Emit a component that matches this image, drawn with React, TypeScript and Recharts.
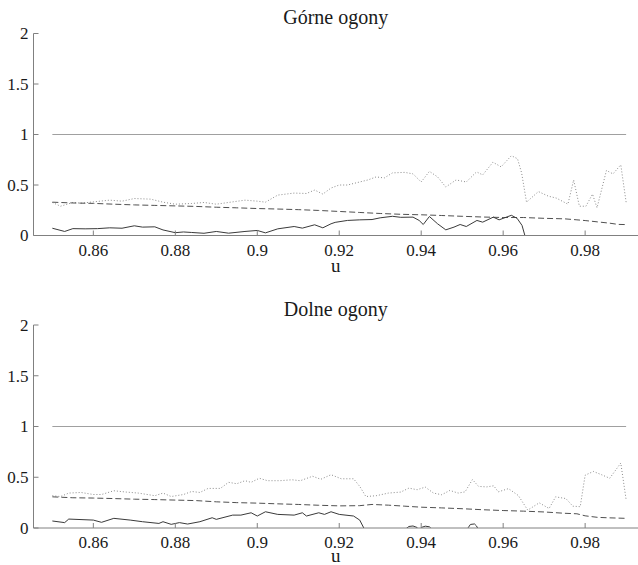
import React from 'react';
import { LineChart, Line, XAxis, YAxis } from 'recharts';

const FONT = "Liberation Serif";

const xTicks = [0.86, 0.88, 0.9, 0.92, 0.94, 0.96, 0.98];
const yTicks = [0, 0.5, 1, 1.5, 2];
const X_DOMAIN: [number, number] = [0.8454, 0.9929];

const refU = [0.85, 0.99];
const refV = [1, 1];

// ---------- Górne ogony ----------
const topSolidU = [0.85, 0.853, 0.855, 0.858, 0.861, 0.864, 0.867, 0.87, 0.872, 0.875, 0.877, 0.88, 0.882, 0.884, 0.887, 0.89, 0.893, 0.897, 0.9, 0.902, 0.905, 0.909, 0.911, 0.914, 0.916, 0.918, 0.919, 0.922, 0.925, 0.928, 0.93, 0.933, 0.935, 0.938, 0.9395, 0.9405, 0.942, 0.944, 0.946, 0.948, 0.9495, 0.951, 0.9536, 0.955, 0.9576, 0.959, 0.962, 0.9634, 0.9646, 0.9653, 0.966, 0.967];
const topSolidV = [0.072, 0.04, 0.068, 0.066, 0.068, 0.076, 0.072, 0.096, 0.083, 0.086, 0.055, 0.028, 0.035, 0.03, 0.022, 0.04, 0.023, 0.04, 0.05, 0.026, 0.066, 0.089, 0.073, 0.106, 0.076, 0.116, 0.13, 0.149, 0.155, 0.158, 0.175, 0.19, 0.18, 0.182, 0.149, 0.109, 0.188, 0.116, 0.056, 0.083, 0.109, 0.089, 0.149, 0.132, 0.182, 0.155, 0.2, 0.17, 0.1, 0.0, -0.15, -0.3];

const topDottedU = [0.85, 0.852, 0.855, 0.857, 0.86, 0.864, 0.867, 0.87, 0.874, 0.877, 0.88, 0.884, 0.887, 0.89, 0.894, 0.897, 0.9, 0.902, 0.905, 0.909, 0.912, 0.914, 0.916, 0.918, 0.92, 0.922, 0.925, 0.927, 0.929, 0.931, 0.933, 0.936, 0.938, 0.94, 0.942, 0.944, 0.946, 0.9485, 0.951, 0.9535, 0.955, 0.9575, 0.9595, 0.962, 0.9635, 0.9645, 0.9657, 0.9686, 0.971, 0.973, 0.9758, 0.9772, 0.9786, 0.9802, 0.9818, 0.9829, 0.9852, 0.9868, 0.9887, 0.99];
const topDottedV = [0.327, 0.29, 0.327, 0.32, 0.333, 0.35, 0.34, 0.366, 0.36, 0.33, 0.31, 0.317, 0.327, 0.31, 0.333, 0.35, 0.34, 0.33, 0.4, 0.42, 0.416, 0.45, 0.41, 0.47, 0.5, 0.5, 0.53, 0.55, 0.58, 0.57, 0.62, 0.625, 0.61, 0.53, 0.635, 0.58, 0.48, 0.55, 0.53, 0.63, 0.6, 0.725, 0.68, 0.79, 0.76, 0.62, 0.33, 0.435, 0.39, 0.37, 0.31, 0.55, 0.29, 0.29, 0.41, 0.274, 0.644, 0.61, 0.7, 0.33];

const topDashedU = [0.85, 0.855, 0.86, 0.865, 0.87, 0.875, 0.88, 0.885, 0.89, 0.895, 0.9, 0.905, 0.91, 0.915, 0.92, 0.925, 0.93, 0.935, 0.94, 0.945, 0.95, 0.955, 0.96, 0.965, 0.97, 0.975, 0.978, 0.98, 0.983, 0.986, 0.988, 0.99];
const topDashedV = [0.33, 0.322, 0.318, 0.31, 0.303, 0.298, 0.293, 0.288, 0.28, 0.274, 0.267, 0.262, 0.256, 0.248, 0.238, 0.228, 0.218, 0.21, 0.205, 0.198, 0.19, 0.183, 0.178, 0.178, 0.17, 0.165, 0.155, 0.148, 0.135, 0.122, 0.11, 0.108];

// ---------- Dolne ogony ----------
const botSolidU = [0.85, 0.853, 0.854, 0.86, 0.862, 0.865, 0.869, 0.872, 0.876, 0.877, 0.879, 0.881, 0.883, 0.886, 0.889, 0.89, 0.894, 0.896, 0.8985, 0.9, 0.902, 0.905, 0.909, 0.911, 0.912, 0.915, 0.9164, 0.918, 0.92, 0.9235, 0.925, 0.926, 0.928, 0.934, 0.9362, 0.937, 0.938, 0.939, 0.9395, 0.9402, 0.941, 0.942, 0.9428, 0.946, 0.95, 0.9515, 0.952, 0.953, 0.9535, 0.954, 0.957, 0.96];
const botSolidV = [0.069, 0.053, 0.088, 0.078, 0.056, 0.095, 0.078, 0.062, 0.045, 0.062, 0.036, 0.053, 0.039, 0.062, 0.101, 0.085, 0.127, 0.127, 0.15, 0.118, 0.16, 0.134, 0.127, 0.15, 0.118, 0.15, 0.134, 0.16, 0.134, 0.118, 0.078, 0.0, -0.12, -0.1, -0.01, 0.015, 0.02, 0.005, -0.02, 0.008, 0.018, 0.012, -0.02, -0.1, -0.08, 0.005, 0.035, 0.04, 0.02, -0.02, -0.12, -0.2];

const botDottedU = [0.85, 0.852, 0.854, 0.857, 0.86, 0.862, 0.865, 0.868, 0.871, 0.875, 0.877, 0.879, 0.882, 0.884, 0.886, 0.888, 0.891, 0.893, 0.895, 0.897, 0.8985, 0.9005, 0.9025, 0.9055, 0.9085, 0.9105, 0.9135, 0.9155, 0.918, 0.9205, 0.9235, 0.925, 0.9265, 0.929, 0.932, 0.935, 0.937, 0.939, 0.941, 0.943, 0.945, 0.947, 0.949, 0.9507, 0.9525, 0.954, 0.956, 0.9577, 0.9588, 0.9613, 0.9637, 0.966, 0.9688, 0.9712, 0.9728, 0.9753, 0.977, 0.9788, 0.98, 0.982, 0.984, 0.986, 0.9887, 0.99];
const botDottedV = [0.318, 0.31, 0.344, 0.35, 0.33, 0.33, 0.367, 0.354, 0.344, 0.318, 0.344, 0.31, 0.33, 0.36, 0.35, 0.39, 0.39, 0.45, 0.436, 0.466, 0.45, 0.49, 0.466, 0.466, 0.475, 0.466, 0.51, 0.48, 0.525, 0.485, 0.485, 0.41, 0.31, 0.318, 0.344, 0.354, 0.393, 0.377, 0.403, 0.344, 0.328, 0.37, 0.344, 0.356, 0.477, 0.41, 0.405, 0.416, 0.356, 0.388, 0.32, 0.176, 0.248, 0.192, 0.307, 0.29, 0.215, 0.21, 0.52, 0.557, 0.525, 0.49, 0.64, 0.28];

const botDashedU = [0.85, 0.855, 0.86, 0.865, 0.87, 0.875, 0.88, 0.885, 0.89, 0.895, 0.9, 0.905, 0.91, 0.915, 0.92, 0.925, 0.928, 0.932, 0.936, 0.94, 0.945, 0.95, 0.955, 0.96, 0.965, 0.97, 0.975, 0.978, 0.98, 0.983, 0.986, 0.99];
const botDashedV = [0.307, 0.298, 0.295, 0.29, 0.284, 0.28, 0.275, 0.27, 0.258, 0.25, 0.245, 0.238, 0.232, 0.224, 0.218, 0.22, 0.232, 0.225, 0.215, 0.205, 0.198, 0.19, 0.18, 0.172, 0.166, 0.158, 0.145, 0.14, 0.12, 0.105, 0.1, 0.095];

const zip = (u: number[], v: number[]) => u.map((x, i) => ({ u: x, v: v[i] }));
const fmt = (v: number) => String(+Number(v).toFixed(2));

const TEXT_FILL = '#1a1a1a';
const TICK_FS = 17;

const CSS = `
.recharts-cartesian-axis-tick-value, .recharts-cartesian-axis-tick text, .recharts-text, .chart-wrap text {
  font-family: 'Liberation Serif', 'Times New Roman', serif !important;
}
`;

const XTick = (props: any) => {
  const { x, y, payload } = props;
  return (
    <text x={x} y={y} dy={TICK_FS * 0.71} textAnchor="middle" fill={TEXT_FILL} fontSize={TICK_FS} fontFamily={FONT}>
      {fmt(payload.value)}
    </text>
  );
};

const YTick = (props: any) => {
  const { x, y, payload } = props;
  return (
    <text x={x} y={y} dy={TICK_FS * 0.34} textAnchor="end" fill={TEXT_FILL} fontSize={TICK_FS} fontFamily={FONT}>
      {fmt(payload.value)}
    </text>
  );
};

type PanelProps = {
  title: string;
  top: number;
  height: number;
  marginTop: number;
  plotH: number;
  tickMargin: number;
  titleY: number;
  uY: number;
  solid: { u: number; v: number }[];
  dotted: { u: number; v: number }[];
  dashed: { u: number; v: number }[];
};

function Panel({ title, top, height, marginTop, plotH, tickMargin, titleY, uY, solid, dotted, dashed }: PanelProps) {
  const axisH = height - marginTop - plotH;
  return (
    <div className="chart-wrap" style={{ position: 'absolute', left: 0, top, width: 638, height }}>
      <LineChart width={638} height={height} margin={{ top: marginTop, right: 0, bottom: 0, left: 0 }}>
        <XAxis
          xAxisId="b"
          type="number"
          dataKey="u"
          domain={X_DOMAIN}
          allowDataOverflow
          ticks={xTicks}
          orientation="bottom"
          height={axisH}
          tickSize={-5}
          tickMargin={tickMargin}
          stroke="#808080"
          tick={(p: any) => <XTick {...p} />}
        />
        <XAxis
          xAxisId="t"
          type="number"
          dataKey="u"
          domain={X_DOMAIN}
          allowDataOverflow
          ticks={xTicks}
          orientation="top"
          height={0}
          tickSize={-5}
          tick={false}
          stroke="#808080"
        />
        <YAxis
          yAxisId="l"
          type="number"
          domain={[0, 2]}
          allowDataOverflow
          ticks={yTicks}
          width={33.5}
          tickSize={-5}
          tickMargin={10}
          stroke="#808080"
          tick={(p: any) => <YTick {...p} />}
        />
        <Line xAxisId="b" yAxisId="l" data={zip(refU, refV)} dataKey="v" type="linear" stroke="#a0a0a0" strokeWidth={1} dot={false} isAnimationActive={false} />
        <Line xAxisId="b" yAxisId="l" data={dotted} dataKey="v" type="linear" stroke="#8a8a8a" strokeWidth={1} strokeDasharray="1 2" dot={false} isAnimationActive={false} />
        <Line xAxisId="b" yAxisId="l" data={dashed} dataKey="v" type="linear" stroke="#505050" strokeWidth={1} strokeDasharray="6 3" dot={false} isAnimationActive={false} />
        <Line xAxisId="b" yAxisId="l" data={solid} dataKey="v" type="linear" stroke="#3a3a3a" strokeWidth={1} dot={false} isAnimationActive={false} />
      </LineChart>
      <svg width={638} height={height} style={{ position: 'absolute', left: 0, top: 0, pointerEvents: 'none' }}>
        <text x={335.75} y={titleY} textAnchor="middle" fill={TEXT_FILL} fontSize={20} fontFamily={FONT}>{title}</text>
        <text x={335.75} y={uY} textAnchor="middle" fill={TEXT_FILL} fontSize={19} fontFamily={FONT}>u</text>
      </svg>
    </div>
  );
}

export default function App() {
  return (
    <div style={{ position: 'fixed', left: 0, top: 0, width: 638, height: 565, background: '#fff', overflow: 'hidden', fontFamily: FONT }}>
      <style>{CSS}</style>
      <Panel
        title="Górne ogony"
        top={0}
        height={282}
        marginTop={33.5}
        plotH={202}
        tickMargin={13.5}
        titleY={24}
        uY={272}
        solid={zip(topSolidU, topSolidV)}
        dotted={zip(topDottedU, topDottedV)}
        dashed={zip(topDashedU, topDashedV)}
      />
      <Panel
        title="Dolne ogony"
        top={282}
        height={283}
        marginTop={43}
        plotH={203}
        tickMargin={12.5}
        titleY={34}
        uY={280}
        solid={zip(botSolidU, botSolidV)}
        dotted={zip(botDottedU, botDottedV)}
        dashed={zip(botDashedU, botDashedV)}
      />
    </div>
  );
}
